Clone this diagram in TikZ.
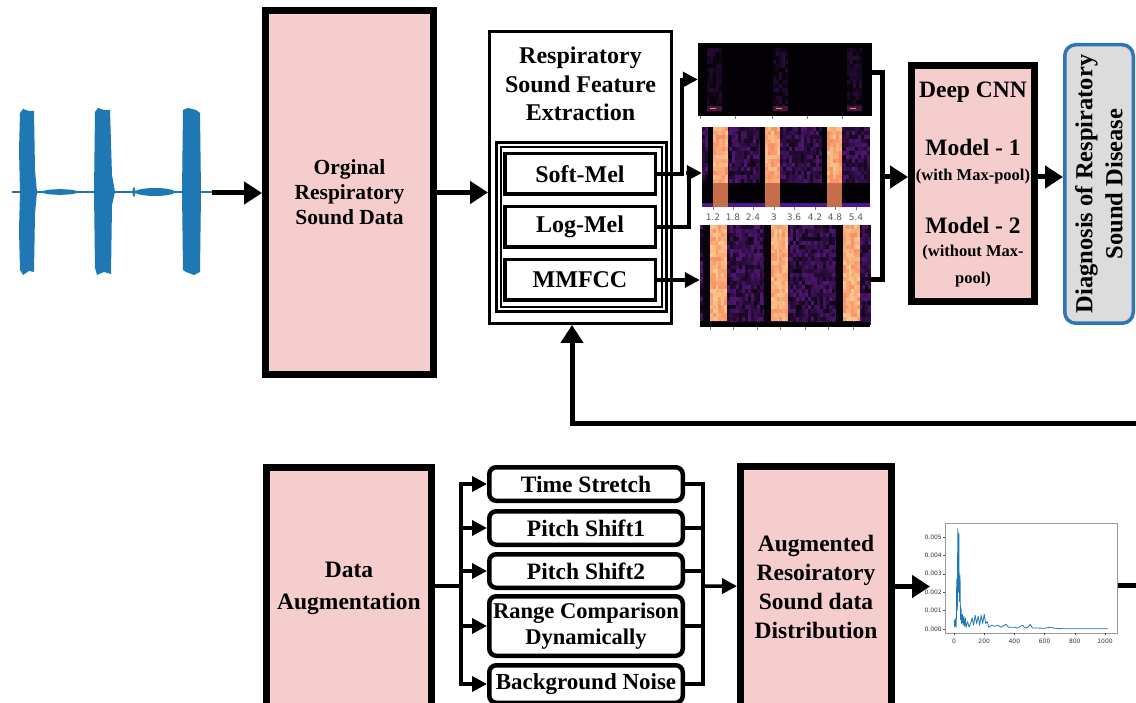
\documentclass[tikz,border=0pt]{standalone}
\usepackage{fontspec}
\setmainfont{Liberation Serif}
\setsansfont{DejaVu Sans}
\usetikzlibrary{arrows.meta,positioning,fit}

\definecolor{boxpink}{HTML}{F5CDCD}
\definecolor{diagblue}{HTML}{2E75B6}
\definecolor{diaggray}{HTML}{DCDCDC}
\definecolor{wblue}{HTML}{1F77B4}
\definecolor{magP}{HTML}{5A1A80}
\definecolor{magM}{HTML}{A3307E}
\definecolor{magO}{HTML}{F7885C}
\definecolor{magY}{HTML}{FCD9A0}

\begin{document}
\begin{tikzpicture}[
  x=1pt, y=-1pt,
  font=\bfseries\fontsize{23.5}{28}\selectfont,
  pbox/.style={draw,line width=7pt,fill=boxpink,align=center,inner sep=0pt},
  wbox/.style={draw,line width=3.5pt,fill=white,align=center,inner sep=0pt},
  abox/.style={draw,line width=4.5pt,rounded corners=7pt,fill=white,align=center,inner sep=0pt,minimum width=193.5pt},
  spec/.style={inner sep=0pt,fill=black!95!magP},
  arr/.style={-{Triangle[length=18pt,width=22pt]},line width=5pt},
  sarr/.style={-{Triangle[length=15pt,width=15pt]},line width=3.5pt,line cap=rect},
  lnk/.style={line width=3.5pt,line cap=rect},
  blnk/.style={line width=5pt},
  small/.style={font=\bfseries\fontsize{16.5}{27}\selectfont,align=center},
  stick/.style={font=\sffamily\mdseries\fontsize{9}{10}\selectfont,text=gray!70!black,inner sep=0pt},
  dtick/.style={font=\sffamily\mdseries\fontsize{6}{7}\selectfont,text=gray!40!black,inner sep=0pt}
]
\useasboundingbox (0,0) rectangle (1136,703);
\pgfmathsetseed{11}

% waveform
\fill[wblue] (20,113) -- (23,109) -- (29,111) -- (34,111) -- (35,170) -- (37,192) -- (35,214) -- (34,272) -- (29,271) -- (23,275) -- (20,270) -- (19,230) -- (20,192) -- (19,150) -- cycle;
\fill[wblue] (95,112) -- (98,108) -- (104,110) -- (110,110) -- (112,175) -- (115,192) -- (112,205) -- (111,274) -- (104,272) -- (97,275) -- (95,268) -- (94,192) -- cycle;
\fill[wblue] (183,110) -- (188,108) -- (196,110) -- (200,113) -- (201,192) -- (200,272) -- (194,275) -- (186,272) -- (183,270) -- (182,192) -- cycle;
\draw[wblue,line width=1.6pt] (12,192) -- (212,192);
\fill[wblue] (60,192) ellipse [x radius=18, y radius=2.8];
\fill[wblue] (155,192) ellipse [x radius=20, y radius=4];
\fill[wblue] (134,192) ellipse [x radius=1.5, y radius=5];
\coordinate (wavend) at (212,193);

\node[pbox,minimum width=168pt,minimum height=364pt,font=\bfseries\fontsize{21.5}{25}\selectfont] (orig) at (349.5,192.5) {Orginal\\Respiratory\\Sound Data};

\node[draw,line width=3pt,fill=white,minimum width=182pt,minimum height=292pt,inner sep=0pt] (feat) at (580.5,177.5) {};
\node[align=center,font=\bfseries\fontsize{24}{28.5}\selectfont] (feattitle) at (580.5,84) {Respiratory\\Sound Feature\\Extraction};
\node[draw,line width=2.5pt,double,double distance=2pt,minimum width=165.5pt,minimum height=164.5pt,inner sep=0pt] (melgrp) at (581.5,227) {};
\node[wbox,minimum width=150.5pt,minimum height=40.5pt,font=\bfseries\fontsize{24}{28}\selectfont] (softmel) at (580,174) {Soft-Mel};
\node[wbox,minimum width=150.5pt,minimum height=40.5pt,font=\bfseries\fontsize{24}{28}\selectfont] (logmel) at (580,227) {Log-Mel};
\node[wbox,minimum width=150.5pt,minimum height=40.5pt,font=\bfseries\fontsize{24}{28}\selectfont] (mmfcc) at (580,280) {MMFCC};

% spectrograms
\node[spec,minimum width=174pt,minimum height=73pt] (spec1) at (785,79.5) {};
\node[spec,minimum width=168pt,minimum height=80pt] (spec2) at (786,167) {};
\node[spec,minimum width=170pt,minimum height=102pt] (spec3) at (785,276) {};
\foreach \a in {707,773,847}{
  \foreach \i in {0,...,4}{
    \foreach \j in {0,...,15}{
      \pgfmathsetmacro\m{int(5+40*rnd)}
      \fill[magP!\m!black] ({\a+3*\i},{48+4*\j}) rectangle ++(3,4);
    }
  }
  \fill[magM!45!black] (\a,106) rectangle ++(15,5);
  \fill[magO] ({\a+3},108) rectangle ++(6,1.5);
}
\foreach \i in {0,...,55}{
  \foreach \j in {0,...,13}{
    \pgfmathsetmacro\m{int(20+70*rnd)}
    \fill[magP!\m!black] ({702+3*\i},{127+4*\j}) rectangle ++(3,4);
  }
}
\fill[magP!85!blue] (702,203) rectangle (870,207);
\foreach \a in {713,765,827}{
  \fill[black] ({\a-5},127) rectangle (\a,183);
  \foreach \i in {0,...,4}{
    \foreach \j in {0,...,13}{
      \pgfmathsetmacro\m{int(25+70*rnd)}
      \fill[magO!\m!magY] ({\a+3*\i},{127+4*\j}) rectangle ++(3,4);
    }
  }
  \fill[magO!80!black] (\a,183) rectangle ++(15,24);
}
\foreach \i in {0,...,56}{
  \foreach \j in {0,...,24}{
    \pgfmathsetmacro\m{int(15+75*rnd)}
    \fill[magP!\m!black] ({700+3*\i},{225+4*\j}) rectangle ++(3,4);
  }
}
\fill[black] (700,322) rectangle (870,327);
\foreach \a in {710,771,843}{
  \fill[black!90!magP] ({\a-7},225) rectangle (\a,322);
  \foreach \i in {0,...,5}{
    \foreach \j in {0,...,23}{
      \pgfmathsetmacro\m{int(20+70*rnd)}
      \fill[magO!\m!magY] ({\a+2.8*\i},{225+4*\j}) rectangle ++(2.8,4);
    }
  }
}
\foreach \t in {700,735,772,807,842} \draw[gray,line width=0.6pt] (\t,116) -- (\t,119);
\foreach \t in {710,733,757,780,805,828,853} \draw[gray,line width=0.6pt] (\t,327) -- (\t,330);
\foreach \t/\l in {713/1.2,733/1.8,753/2.4,774/3,794/3.6,815/4.2,835/4.8,856/5.4}{
  \draw[gray,line width=0.6pt] (\t,207) -- (\t,210);
  \node[stick] (tl\t) at (\t,217) {\l};
}

\node[pbox,minimum width=123pt,minimum height=236pt] (cnn) at (973,183.5) {};
\node[font=\bfseries\fontsize{23.5}{27}\selectfont] (cnnhead) at (973,92) {Deep CNN};
\node[font=\bfseries\fontsize{23.5}{27}\selectfont] (model1) at (973,147) {Model - 1};
\node[small] (model1n) at (973,177) {(with Max-pool)};
\node[font=\bfseries\fontsize{23.5}{27}\selectfont] (model2) at (973,225) {Model - 2};
\node[small] (model2n) at (973,266) {(without Max-\\pool)};

\node[draw=diagblue,fill=diaggray,line width=3.5pt,rounded corners=11pt,minimum width=68.5pt,minimum height=278.5pt,inner sep=0pt] (diag) at (1099,184) {};
\node[rotate=90,align=center,font=\bfseries\fontsize{24.5}{30}\selectfont] (diagtxt) at (diag) {Diagnosis of Respiratory\\Sound Disease};

\coordinate (specbus) at (882,177);
\coordinate (fbk) at (1136,424);

\draw[arr] (wavend) -- (wavend -| orig.west);
\draw[arr] (orig) -- (orig -| feat.west);
\draw[sarr] (softmel.east) -- ++(25,0) |- (spec1.west);
\draw[sarr] (logmel.east) -- ++(32,0) |- ([yshift=-6pt]spec2.west);
\draw[sarr] (mmfcc.east) -- (mmfcc.east -| spec3.west);
\draw[blnk] ([yshift=7pt]spec1.east) -| (specbus) |- ([yshift=-4pt]spec3.east);
\draw[arr] (specbus) -- (specbus -| cnn.west);
\draw[arr] (specbus -| cnn.east) -- (specbus -| diag.west);
\draw[arr] (fbk) -| ([xshift=-8.5pt]feat.south);

% augmentation row
\node[pbox,minimum width=165pt,minimum height=241pt,font=\bfseries\fontsize{23.5}{32}\selectfont] (aug) at (349,588) {Data\\Augmentation};
\node[abox,minimum height=33.5pt] (tstr) at (586,484) {Time Stretch};
\node[abox,minimum height=33.5pt] (ps1) at (586,528) {Pitch Shift1};
\node[abox,minimum height=33.5pt] (ps2) at (586,571) {Pitch Shift2};
\node[abox,minimum height=59.5pt,font=\bfseries\fontsize{22.5}{26}\selectfont] (rcd) at (586,626) {Range Comparison\\Dynamically};
\node[abox,minimum height=37.5pt,font=\bfseries\fontsize{23}{26}\selectfont] (bgn) at (586,684) {Background Noise};
\node[pbox,minimum width=151pt,minimum height=240pt,font=\bfseries\fontsize{23.5}{29}\selectfont] (augd) at (816,586.5) {Augmented\\Resoiratory\\Sound data\\Distribution};

\coordinate (lbus) at (461,586);
\coordinate (rbus) at (703,586);
\draw[lnk] (aug.east |- lbus) -- (lbus);
\draw[lnk] (lbus |- tstr) -- (lbus |- bgn);
\foreach \b in {tstr,ps1,ps2,rcd,bgn} \draw[sarr] (lbus |- \b) -- (\b);
\foreach \b in {tstr,ps1,ps2,rcd,bgn} \draw[lnk] (\b) -- (rbus |- \b);
\draw[lnk] (rbus |- tstr) -- (rbus |- bgn);
\draw[sarr] (rbus) -- (augd);

% distribution plot
\node[draw=gray!80,line width=1pt,minimum width=172pt,minimum height=110pt,inner sep=0pt] (dist) at (1031,578) {};
\foreach \v in {0,...,5}{
  \draw[gray!60!black,line width=0.5pt] (945,{629-18.4*\v}) -- (943,{629-18.4*\v});
  \node[dtick,anchor=east] (ylab\v) at (942,{629-18.4*\v}) {0.00\v};
}
\foreach \v in {0,200,...,1000}{
  \draw[gray!60!black,line width=0.5pt] ({954+0.151*\v},633) -- ({954+0.151*\v},635);
  \node[dtick] (xlab\v) at ({954+0.151*\v},641) {\v};
}
\begin{scope}[shift={(954,629)},x=0.151pt,y=18.4pt]
\draw[wblue,line width=0.8pt,line join=round] plot[sharp plot] coordinates {(0,0.5) (5,0.1) (10,0.55) (15,0.1) (18,2.7) (22,1.0) (25,5.45) (28,2.0) (32,5.2) (35,1.5) (40,2.9) (43,0.5) (47,1.1) (50,0.3) (55,0.8) (60,0.2) (65,0.7) (70,0.15) (75,0.6) (80,0.1) (90,0.4) (100,0.1) (110,0.3) (120,0.6) (130,0.2) (140,0.75) (150,0.3) (160,0.7) (170,0.2) (180,0.75) (190,0.3) (200,0.8) (210,0.3) (220,0.4) (230,0.1) (250,0.2) (270,0.15) (290,0.2) (310,0.1) (330,0.2) (345,0.25) (360,0.1) (380,0.1) (400,0.1) (420,0.05) (440,0.15) (455,0.2) (470,0.05) (490,0.1) (505,0.25) (520,0.05) (560,0.05) (600,0.04) (640,0.1) (660,0.05) (700,0.02) (800,0.01) (1020,0.01)};
\end{scope}

\coordinate (distin) at (930,586.5);
\coordinate (distout) at (1136,585);
\draw[arr] (augd) -- (distin);
\draw[blnk] (dist.east |- distout) -- (distout);
\end{tikzpicture}
\end{document}
